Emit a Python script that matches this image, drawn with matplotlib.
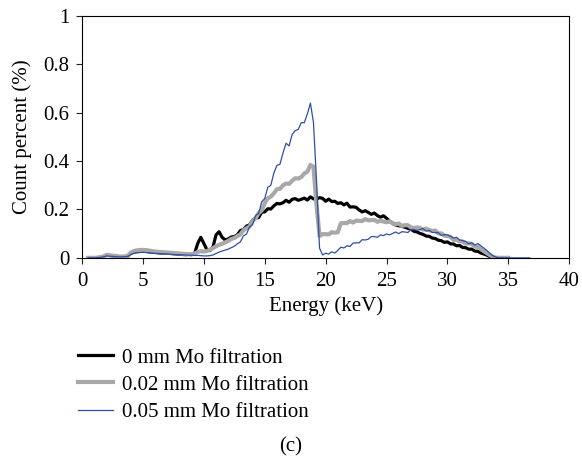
import numpy as np
import matplotlib
matplotlib.use('Agg')
import matplotlib.pyplot as plt

nan = np.nan

# Energy channels (keV), 0.25 keV bins
energy = np.arange(0.5, 37.0, 0.25)

# Count percent (%) per channel, one list per filter thickness
counts_0mm = [
    0.000, 0.000,
    0.000, 0.000, 0.002, 0.004,
    0.012, 0.010, 0.008, 0.007,
    0.005, 0.004, 0.005, 0.006,
    0.018, 0.024, 0.026, 0.027,
    0.028, 0.027, 0.025, 0.024,
    0.022, 0.021, 0.020, 0.020,
    0.019, 0.018, 0.017, 0.016,
    0.015, 0.014, 0.013, 0.014,
    0.013, 0.020, 0.060, 0.085,
    0.060, 0.034, 0.030, 0.045,
    0.095, 0.108, 0.085, 0.074,
    0.078, 0.086, 0.088, 0.095,
    0.113, 0.117, 0.131, 0.136,
    0.156, 0.165, 0.167, 0.189,
    0.190, 0.203, 0.202, 0.215,
    0.225, 0.223, 0.228, 0.238,
    0.230, 0.242, 0.245, 0.238,
    0.242, 0.247, 0.239, 0.252,
    0.244, 0.243, 0.249, 0.246,
    0.234, 0.243, 0.233, 0.234,
    0.225, 0.228, 0.219, 0.226,
    0.210, 0.211, 0.209, 0.198,
    0.190, 0.195, 0.188, 0.180,
    0.185, 0.175, 0.168, 0.174,
    0.164, 0.152, 0.142, 0.136,
    0.133, 0.130, 0.127, 0.122,
    0.119, 0.110, 0.107, 0.101,
    0.097, 0.090, 0.089, 0.082,
    0.080, 0.073, 0.071, 0.064,
    0.066, 0.058, 0.057, 0.050,
    0.051, 0.043, 0.042, 0.036,
    0.036, 0.028, 0.027, 0.020,
    0.016, 0.011, 0.005, 0.001,
    0.000, 0.000, nan, nan,
    nan, nan, nan, nan,
    nan, nan, nan, nan,
]

counts_002mm = [
    0.000, 0.000,
    0.000, 0.001, 0.003, 0.005,
    0.012, 0.011, 0.009, 0.008,
    0.006, 0.005, 0.006, 0.008,
    0.022, 0.028, 0.031, 0.032,
    0.033, 0.032, 0.030, 0.028,
    0.026, 0.025, 0.024, 0.023,
    0.022, 0.021, 0.020, 0.019,
    0.018, 0.017, 0.016, 0.016,
    0.015, 0.018, 0.024, 0.028,
    0.026, 0.028, 0.034, 0.040,
    0.048, 0.054, 0.058, 0.064,
    0.070, 0.078, 0.082, 0.090,
    0.097, 0.114, 0.122, 0.129,
    0.153, 0.163, 0.185, 0.196,
    0.227, 0.246, 0.253, 0.267,
    0.284, 0.285, 0.300, 0.307,
    0.306, 0.319, 0.329, 0.328,
    0.334, 0.349, 0.356, 0.384,
    0.377, 0.220, 0.090, 0.098,
    0.098, 0.097, 0.106, 0.104,
    0.106, 0.143, 0.144, 0.144,
    0.152, 0.146, 0.154, 0.153,
    0.152, 0.160, 0.155, 0.156,
    0.157, 0.149, 0.154, 0.150,
    0.147, 0.151, 0.144, 0.139,
    0.142, 0.132, 0.135, 0.135,
    0.126, 0.123, 0.126, 0.124,
    0.117, 0.121, 0.115, 0.111,
    0.113, 0.101, 0.101, 0.092,
    0.090, 0.087, 0.074, 0.075,
    0.068, 0.068, 0.059, 0.060,
    0.058, 0.046, 0.046, 0.036,
    0.027, 0.019, 0.011, 0.004,
    0.001, 0.000, 0.000, 0.000,
    0.000, nan, nan, nan,
    nan, nan, nan, nan,
]

counts_005mm = [
    0.000, 0.000,
    0.000, 0.001, 0.002, 0.004,
    0.008, 0.007, 0.006, 0.005,
    0.004, 0.004, 0.005, 0.006,
    0.014, 0.019, 0.021, 0.022,
    0.023, 0.022, 0.021, 0.020,
    0.019, 0.018, 0.017, 0.017,
    0.016, 0.015, 0.014, 0.013,
    0.013, 0.012, 0.012, 0.011,
    0.011, 0.010, 0.010, 0.009,
    0.008, 0.008, 0.009, 0.012,
    0.018, 0.024, 0.028, 0.032,
    0.036, 0.042, 0.048, 0.058,
    0.066, 0.091, 0.098, 0.128,
    0.137, 0.175, 0.184, 0.232,
    0.245, 0.292, 0.300, 0.351,
    0.382, 0.387, 0.434, 0.474,
    0.463, 0.510, 0.526, 0.531,
    0.559, 0.559, 0.595, 0.640,
    0.560, 0.320, 0.040, 0.012,
    0.019, 0.016, 0.025, 0.020,
    0.031, 0.044, 0.041, 0.050,
    0.047, 0.061, 0.062, 0.062,
    0.075, 0.074, 0.077, 0.088,
    0.088, 0.085, 0.095, 0.092,
    0.099, 0.095, 0.101, 0.107,
    0.100, 0.108, 0.107, 0.105,
    0.116, 0.117, 0.114, 0.117,
    0.121, 0.110, 0.114, 0.105,
    0.105, 0.104, 0.093, 0.096,
    0.095, 0.089, 0.082, 0.085,
    0.074, 0.071, 0.068, 0.058,
    0.062, 0.053, 0.059, 0.050,
    0.040, 0.030, 0.018, 0.008,
    0.003, 0.000, 0.000, 0.000,
    0.000, 0.000, 0.000, 0.000,
    0.000, 0.000, 0.000, 0.000,
]

labels = ['0 mm Mo filtration', '0.02 mm Mo filtration', '0.05 mm Mo filtration']
yticks = [0, 0.2, 0.4, 0.6, 0.8, 1]
ytick_labels = ['0', '0.2', '0.4', '0.6', '0.8', '1']
xticks = [0, 5, 10, 15, 20, 25, 30, 35, 40]

matplotlib.rc('font', **{'size': 15, 'family': 'serif', 'serif': ['Liberation Serif']})

fig = plt.figure(figsize=(5.82, 4.58), dpi=100)
ax = fig.add_axes([0.141, 0.437, 0.837, 0.528])

series = [
    (counts_0mm, '#000000', 2.3, labels[0]),
    (counts_002mm, '#a8a8a8', 3.0, labels[1]),
    (counts_005mm, '#2f4fa6', 0.9, labels[2]),
]
for ys, color, lw, label in series:
    ax.plot(energy, ys, color=color, lw=lw, label=label)

ax.set_xlim(0, 40)
ax.set_ylim(0, 1)
ax.set_xticks(xticks)
ax.set_yticks(yticks)
ax.set_yticklabels(ytick_labels)
ax.tick_params(direction='out', length=4, width=0.8, color='#222222')
ax.tick_params(axis='x', pad=6)
ax.tick_params(axis='y', pad=5)
for spine in ax.spines.values():
    spine.set_linewidth(0.8)
ax.set_xlabel('Energy (keV)', labelpad=4)
ax.set_ylabel('Count percent (%)', labelpad=8)

fig.legend(loc='upper left', bbox_to_anchor=(0.134, 0.24), frameon=False,
           handlelength=1.68, handletextpad=0.43, labelspacing=0.36, fontsize=15,
           borderaxespad=0, borderpad=0)
fig.text(0.5, 0.024, '(c)', ha='center', va='center', fontsize=15)

fig.savefig('out.png', dpi=100)
